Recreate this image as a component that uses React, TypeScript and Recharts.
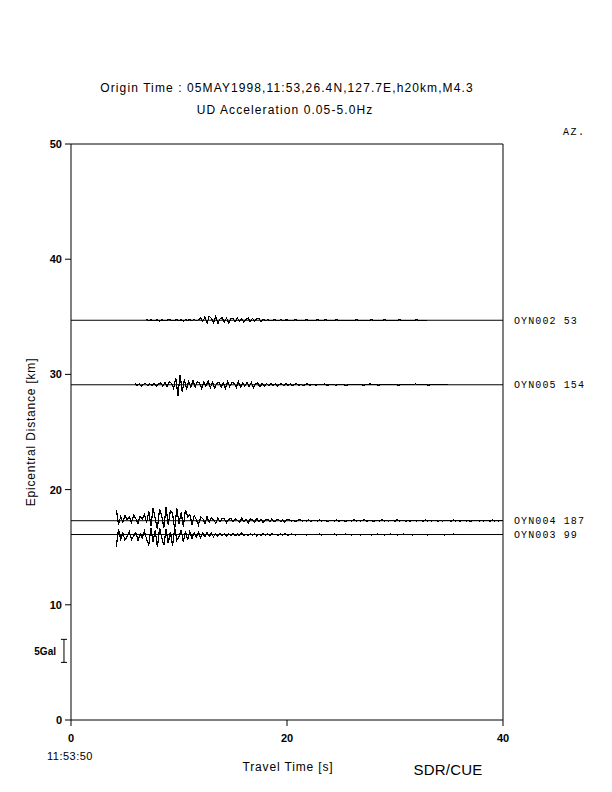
import { LineChart, Line, XAxis, YAxis, ReferenceLine } from 'recharts';

// sampling interval of the traces [s]
const DT = 0.2;
// 5 Gal is drawn as 2 km on the distance axis
const KM_PER_GAL = 0.4;

const X_TICKS = [0, 20, 40];
const Y_TICKS = [0, 10, 20, 30, 40, 50];

const STATIONS = ['OYN002', 'OYN005', 'OYN004', 'OYN003'];
const AZIMUTHS = [53, 154, 187, 99];
const DISTANCES = [34.7, 29.1, 17.3, 16.1];
const ONSETS = [7.0, 5.9, 4.2, 4.2];

// UD acceleration [Gal], one sample every DT from the onset
const OYN002_ACC = [
  0.2, -0.1, 0.1, -0.1, 0, 0.1, -0.2, 0.1, 0, -0.1, 0.1, 0.1, -0.1, 0, 0.1, -0.1, 0.1, -0.2, 0.1, 0, 0.1, -0.1, 0.2, -0.1, 0.1,
  0.5, -0.3, 0.7, -0.6, 0.9, 0.4, -0.5, 0.8, -0.7, 0.3, 0.6, -0.4, 0.5,
  -0.6, 0.3, 0.4, -0.3, 0.5, -0.2, 0.3, -0.4, 0.2, 0.5, -0.3, 0.4, -0.2, 0.3, 0.4, -0.3, 0.2,
  -0.1, 0.1, 0, -0.1, 0.1, 0, -0.1, 0.1, 0, 0,
  0.1, -0.1, 0, 0, 0.1, 0, -0.1, 0, 0, 0.1,
  0, 0, -0.1, 0, 0.1, 0, 0, 0, 0.1, 0,
  0, 0, 0, 0.1, 0, 0, 0, 0, -0.1, 0,
  0, 0, 0.1, 0, 0, 0, 0, 0, 0, 0.1,
  0, 0, 0, 0, 0, 0.1, 0, 0, 0, 0,
  0, 0, 0.1, 0, 0, 0, 0, 0, 0, 0,
  0.1, 0, 0, 0, 0, 0,
];

const OYN005_ACC = [
  0.3, -0.2, 0.2, -0.3, 0.1, 0.3, -0.2, 0.2, -0.1, 0.3, -0.3, 0.2, 0.4, -0.3, 0.5, -0.4, 0.6, 0.3,
  -0.8, 1.5, -2.4, 2.2, -1.6, 1.2, -1.0, 0.8,
  -0.6, 0.9, -0.5, 0.7, 0.4, -0.8, 0.6, -0.3, 0.8, -0.6, 0.5, -0.7, 0.3, 0.6, -0.5, 0.4, -0.8, 0.7, -0.4,
  0.5, 0.3, -0.6, 0.7, -0.5, 0.4, -0.3, 0.6, -0.4, 0.5, -0.6, 0.3, 0.4, -0.5, 0.3, -0.4, 0.3, -0.2,
  0.3, -0.2, 0.2, -0.3, 0.1, 0.2, -0.2, 0.3, -0.1, 0.2, -0.2, 0.1, 0.2, -0.1, 0.1, -0.2, 0.1, 0.2, -0.1, 0.1,
  0, -0.1, 0.1, 0, 0, 0.2, -0.1, 0, 0, 0.1,
  -0.1, 0, 0.1, 0, 0, -0.2, 0.1, 0, 0, 0,
  0.1, 0, 0, -0.1, 0, 0, 0.2, 0, 0, 0,
  -0.1, 0, 0, 0, 0.1, 0, 0, 0, 0, -0.1,
  0, 0, 0.1, 0, 0, 0, 0, 0.2, 0, 0,
  0, 0, 0, -0.1, 0, 0, 0, 0, 0, 0.1,
  0, 0, 0,
];

const OYN004_ACC = [
  2.4, -0.8,
  0.9, -0.3, 1.1, 0.2, 0.8, -0.4, 1.2, 0.5, -0.6, 1.0, 0.3, 1.4, -0.5,
  2.1, -1.2, 2.8, 0.4, -1.8, 2.5, 1.0, -1.5, 3.0, -0.9, 2.2, 1.6, -1.9, 2.7, -0.6, 1.8, -1.3, 2.4, 0.8,
  1.4, -0.8, 1.1, 0.3, -0.9, 0.8, 0.5, -0.6, 0.9, -0.4, 0.7, 0.2, -0.5, 0.6, -0.3, 0.5, 0.4, -0.4, 0.3,
  0.5, -0.3, 0.4, 0.1, -0.4, 0.6, -0.2, 0.3, -0.5, 0.4, 0.2, -0.3, 0.5, -0.2, 0.3, -0.4, 0.2, 0.3, -0.2,
  0.4, -0.3, 0.1, 0.3, -0.2, 0.2, -0.3, 0.2,
  0.2, -0.1, 0.1, -0.2, 0.1, 0.2, -0.1, 0.1, -0.1, 0.2,
  -0.2, 0.1, 0.1, -0.1, 0.2, -0.1, 0.1, 0, -0.2, 0.1,
  0.1, -0.1, 0.2, -0.1, 0, 0.1, -0.2, 0.1, 0.1, -0.1,
  0.2, -0.1, 0.1, -0.1, 0.1, 0.2, -0.1, 0, 0.1, -0.2,
  0.1, 0.1, -0.1, 0.2, -0.1, 0.1, -0.1, 0.1, 0, -0.1,
  0.2, -0.1, 0.1, 0.1, -0.2, 0.1, -0.1, 0.1, 0.1, -0.1,
  0.1, 0, -0.1, 0.2, -0.1, 0.1, -0.1, 0.1, 0.1, -0.2,
  0.1, -0.1, 0.1, 0, 0.1, -0.1, 0.2, -0.1, 0.1, -0.1,
  0.1, 0.1, -0.1, 0.1, -0.2, 0.1, 0, 0.1, -0.1, 0.1,
  -0.1, 0.1, 0.1, -0.1, 0.2, -0.1, 0.1, -0.1, 0.1, 0,
];

const OYN003_ACC = [
  -2.6, 1.2,
  -1.0, 0.3, -1.2, -0.4, 0.6, -1.1, -0.3, 0.5, -1.3, 0.2, -0.8, 0.7, -1.0,
  -2.2, 1.3, -1.6, 0.9, -2.8, 1.5, -0.7, -2.3, 1.1, -1.9, 0.6, -2.5, 1.4, -1.2, -0.5, 1.0, -1.7, 0.8, -1.1,
  0.7, -0.9, 0.4, -0.6, 0.5, -0.7, 0.3, -0.5, 0.4, -0.4, 0.3, -0.5, 0.2, -0.4, 0.3, -0.3, 0.2, -0.3, 0.2,
  -0.3, 0.2, -0.3, 0.1, -0.2, 0.3, -0.2, 0.1, -0.3, 0.2, -0.1, 0.2, -0.3, 0.1, -0.2, 0.2, -0.1, 0.1, -0.2,
  0.2, -0.1, 0.1, -0.2, 0.1, -0.1, 0.2, -0.1,
  -0.1, 0.1, 0, -0.1, 0.1, -0.1, 0, 0.1, -0.1, 0,
  0.1, -0.1, 0, 0, 0.1, -0.1, 0.1, 0, -0.1, 0,
  0, 0.1, -0.1, 0, 0, -0.1, 0.1, 0, 0, -0.1,
  0.1, 0, 0, -0.1, 0, 0.1, 0, 0, -0.1, 0,
  0, 0.1, 0, 0, -0.1, 0, 0, 0.1, 0, 0,
  -0.1, 0, 0, 0.1, 0, 0, 0, -0.1, 0, 0,
  0.1, 0, 0, 0, -0.1, 0, 0, 0, 0.1, 0,
  0, 0, -0.1, 0, 0, 0, 0.1, 0, 0, 0,
];

const TRACES = [OYN002_ACC, OYN005_ACC, OYN004_ACC, OYN003_ACC];

const toPoints = (onset: number, dist: number, acc: number[]) =>
  acc.map((g, i) => ({ t: +(onset + i * DT).toFixed(2), d: dist + g * KM_PER_GAL }));

// scale bar: 5 Gal drawn at the left margin
const BAR_T = -0.65;
const BAR_BASE = 5.0;
const BAR_GAL = 5;

const SANS = '"Liberation Sans", Arial, sans-serif';
const MONO = '"Liberation Mono", "DejaVu Sans Mono", monospace';

const axisTick = { fill: '#000', fontSize: 11, fontWeight: 'bold' as const, fontFamily: SANS };
const noLabel = () => <g />;

export default function App() {
  const barTop = BAR_BASE + BAR_GAL * KM_PER_GAL;
  return (
    <div style={{ position: 'absolute', left: 0, top: 0, width: 612, height: 792, background: '#fff' }}>
      <LineChart width={612} height={792} margin={{ top: 134, right: 79, bottom: 42, left: 31 }}>
        <XAxis
          xAxisId="bottom"
          dataKey="t"
          type="number"
          domain={[0, 40]}
          ticks={X_TICKS}
          tickSize={6}
          tickMargin={8}
          height={30}
          stroke="#000"
          tick={axisTick}
          allowDataOverflow
        />
        <XAxis
          xAxisId="top"
          orientation="top"
          dataKey="t"
          type="number"
          domain={[0, 40]}
          ticks={X_TICKS}
          tickSize={6}
          height={10}
          stroke="#000"
          tick={noLabel}
        />
        <YAxis
          yAxisId="left"
          dataKey="d"
          type="number"
          domain={[0, 50]}
          ticks={Y_TICKS}
          tickSize={6}
          tickMargin={3}
          width={40}
          stroke="#000"
          tick={axisTick}
          allowDataOverflow
        />
        <YAxis
          yAxisId="right"
          orientation="right"
          dataKey="d"
          type="number"
          domain={[0, 50]}
          ticks={Y_TICKS}
          tickSize={6}
          width={30}
          stroke="#000"
          tick={noLabel}
        />
        {DISTANCES.map((dist, i) => (
          <ReferenceLine
            key={`base-${STATIONS[i]}`}
            xAxisId="bottom"
            yAxisId="left"
            y={dist}
            stroke="#000"
            strokeWidth={1}
            label={{
              value: `${STATIONS[i]} ${AZIMUTHS[i]}`,
              position: 'right',
              offset: 11,
              fill: '#000',
              fontSize: 10,
              fontFamily: MONO,
              letterSpacing: 1.1,
            }}
          />
        ))}
        {TRACES.map((acc, i) => (
          <Line
            key={STATIONS[i]}
            xAxisId="bottom"
            yAxisId="left"
            data={toPoints(ONSETS[i], DISTANCES[i], acc)}
            dataKey="d"
            type="linear"
            stroke="#000"
            strokeWidth={1.2}
            shapeRendering="crispEdges"
            dot={false}
            isAnimationActive={false}
          />
        ))}
        <ReferenceLine
          xAxisId="bottom"
          yAxisId="left"
          ifOverflow="visible"
          segment={[{ x: BAR_T, y: BAR_BASE }, { x: BAR_T, y: barTop }]}
          stroke="#000"
        />
        <ReferenceLine
          xAxisId="bottom"
          yAxisId="left"
          ifOverflow="visible"
          segment={[{ x: BAR_T - 0.28, y: BAR_BASE }, { x: BAR_T + 0.28, y: BAR_BASE }]}
          stroke="#000"
        />
        <ReferenceLine
          xAxisId="bottom"
          yAxisId="left"
          ifOverflow="visible"
          segment={[{ x: BAR_T - 0.28, y: barTop }, { x: BAR_T + 0.28, y: barTop }]}
          stroke="#000"
        />
      </LineChart>
      <svg width={612} height={792} style={{ position: 'absolute', left: 0, top: 0, pointerEvents: 'none' }}>
        <g fontFamily={SANS} fill="#000">
          <text x={287} y={92} fontSize={12} letterSpacing={1.1} textAnchor="middle">
            Origin Time : 05MAY1998,11:53,26.4N,127.7E,h20km,M4.3
          </text>
          <text x={285} y={114} fontSize={12} letterSpacing={1.1} textAnchor="middle">
            UD Acceleration 0.05-5.0Hz
          </text>
          <text x={70} y={760} fontSize={11} letterSpacing={0.5} textAnchor="middle">11:53:50</text>
          <text x={288} y={771} fontSize={12} letterSpacing={0.85} textAnchor="middle">
            Travel Time [s]
          </text>
          <text x={448} y={775} fontSize={15} letterSpacing={0.2} textAnchor="middle">SDR/CUE</text>
          <text x={56} y={655} fontSize={10} fontWeight="bold" textAnchor="end">5Gal</text>
          <text
            x={35}
            y={432}
            fontSize={12}
            letterSpacing={0.8}
            textAnchor="middle"
            transform="rotate(-90 35 432)"
          >
            Epicentral Distance [km]
          </text>
        </g>
        <text x={563} y={135} fontFamily={MONO} fontSize={10} letterSpacing={1.5} fill="#000">AZ.</text>
      </svg>
    </div>
  );
}
